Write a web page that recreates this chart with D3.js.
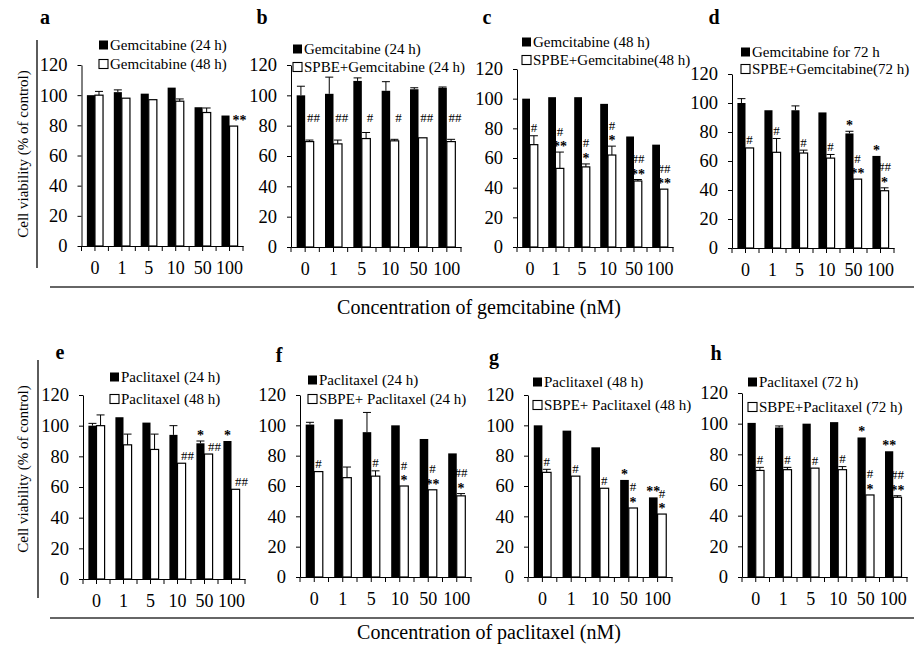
<!DOCTYPE html>
<html>
<head>
<meta charset="utf-8">
<script src="https://cdn.jsdelivr.net/npm/d3@7"></script>
<style>
body { margin: 0; background: #fff; }
text { font-family: "Liberation Serif", "Times New Roman", serif; fill: #000; }
</style>
</head>
<body>
<svg id="fig" width="917" height="647"></svg>
<script>

var concGem = ["0", "1", "5", "10", "50", "100"];
var concPac = ["0", "1", "5", "10", "50", "100"];
var concPacG = ["0", "1", "10", "50", "100"];
var yTicks = [0, 20, 40, 60, 80, 100, 120];

// a: gemcitabine 24 h vs 48 h
var aDark = [100, 102, 101, 105, 92, 86.5];
var aDarkErr = [0, 1.5, 0, 0, 0, 0];
var aLight = [100, 98, 97, 96, 88.5, 79.5];
var aLightErr = [2.5, 0, 0, 1.5, 3, 0];
var aDarkMarks = [[], [], [], [], [], []];
var aLightMarks = [[], [], [], [], [], ["**"]];

// b: gemcitabine 24 h, +SPBE
var bDark = [100, 101, 109.5, 103, 104, 105];
var bDarkErr = [6, 11, 2, 6, 1, 0.5];
var bLight = [69.5, 68, 71.5, 70, 72, 69.5];
var bLightErr = [1, 2.5, 4, 1, 0, 1.5];
var bDarkMarks = [[], [], [], [], [], []];
var bLightMarks = [["##"], ["##"], ["#"], ["#"], ["##"], ["##"]];

// c: gemcitabine 48 h, +SPBE
var cDark = [100, 101, 101, 96.5, 74.5, 69];
var cDarkErr = [0, 0, 0, 0, 0, 0];
var cLight = [69, 53, 54, 62, 44.5, 39];
var cLightErr = [6, 11, 2, 6, 1, 0];
var cDarkMarks = [[], [], [], [], [], []];
var cLightMarks = [["#"], ["#", "**"], ["#", "*"], ["#", "*"], ["##", "**"], ["##", "**"]];

// d: gemcitabine 72 h, +SPBE
var dDark = [100, 95, 95, 93.5, 79, 63.5];
var dDarkErr = [3, 0, 3, 0, 1.5, 0];
var dLight = [69, 66, 65.5, 62, 47.5, 39.5];
var dLightErr = [0, 9.5, 2, 2.5, 0, 2];
var dDarkMarks = [[], [], [], [], ["*"], ["*"]];
var dLightMarks = [["#"], ["#"], ["#"], ["#"], ["#", "**"], ["##", "*"]];

// e: paclitaxel 24 h vs 48 h
var eDark = [100, 105.5, 102, 94, 88.5, 90];
var eDarkErr = [1.5, 0, 0, 6, 1.5, 0];
var eLight = [100, 87.5, 84.5, 75.5, 81.5, 58.5];
var eLightErr = [7, 7, 10, 0, 0, 0];
var eDarkMarks = [[], [], [], [], ["*"], ["*"]];
var eLightMarks = [[], [], [], ["##"], ["##"], ["##"]];

// f: paclitaxel 24 h, +SBPE
var fDark = [100.5, 104, 95.5, 100, 91, 81.5];
var fDarkErr = [1.5, 0, 13, 0, 0, 0];
var fLight = [69.5, 65.5, 66.5, 60, 57.5, 53.5];
var fLightErr = [0, 7, 3.5, 0, 0, 1.5];
var fDarkMarks = [[], [], [], [], [], []];
var fLightMarks = [["#"], [], ["#"], ["#", "*"], ["#", "**"], ["##", "*"]];

// g: paclitaxel 48 h, +SBPE
var gDark = [100, 96.5, 85.5, 64, 52.5];
var gDarkErr = [0, 0, 0, 0, 0];
var gLight = [69, 66.5, 58.5, 45.5, 41.5];
var gLightErr = [2, 0, 0, 0, 0];
var gDarkMarks = [[], [], [], ["*"], ["**"]];
var gLightMarks = [["#"], ["#"], ["#"], ["#", "*"], ["#", "*"]];

// h: paclitaxel 72 h, +SBPE
var hDark = [100.5, 97.5, 100, 101, 91, 82];
var hDarkErr = [0, 1, 0, 0, 0, 0];
var hLight = [69.5, 70, 71, 70, 53.5, 52];
var hLightErr = [2, 1.5, 0, 2, 0, 1];
var hDarkMarks = [[], [], [], [], ["*"], ["**"]];
var hLightMarks = [["#"], ["#"], ["#"], ["#"], ["#", "*"], ["##", "**"]];

var panels = [
  {tag: "a", tagX: 45, tagY: 17, cats: concGem, dark: aDark, darkErr: aDarkErr, light: aLight, lightErr: aLightErr,
   darkMarks: aDarkMarks, lightMarks: aLightMarks, lightDx: 6,
   legend: ["Gemcitabine (24 h)", "Gemcitabine (48 h)"], lx: 99, ly: [45, 64],
   left: 81.5, right: 243, bottom: 246, top: 65},
  {tag: "b", tagX: 262, tagY: 17, cats: concGem, dark: bDark, darkErr: bDarkErr, light: bLight, lightErr: bLightErr,
   darkMarks: bDarkMarks, lightMarks: bLightMarks, lightDx: 4, floor: 80,
   legend: ["Gemcitabine (24 h)", "SPBE+Gemcitabine (24 h)"], lx: 293, ly: [49, 67],
   left: 291, right: 461, bottom: 247, top: 65},
  {tag: "c", tagX: 487, tagY: 17, cats: concGem, dark: cDark, darkErr: cDarkErr, light: cLight, lightErr: cLightErr,
   darkMarks: cDarkMarks, lightMarks: cLightMarks, lightDx: 0,
   legend: ["Gemcitabine (48 h)", "SPBE+Gemcitabine(48 h)"], lx: 522, ly: [42, 60],
   left: 517, right: 673, bottom: 247, top: 69},
  {tag: "d", tagX: 714, tagY: 17, cats: concGem, dark: dDark, darkErr: dDarkErr, light: dLight, lightErr: dLightErr,
   darkMarks: dDarkMarks, lightMarks: dLightMarks, lightDx: 0,
   legend: ["Gemcitabine for 72 h", "SPBE+Gemcitabine(72 h)"], lx: 741, ly: [52, 69],
   left: 732, right: 894, bottom: 248, top: 74},
  {tag: "e", tagX: 60, tagY: 352, cats: concPac, dark: eDark, darkErr: eDarkErr, light: eLight, lightErr: eLightErr,
   darkMarks: eDarkMarks, lightMarks: eLightMarks, lightDx: 6,
   legend: ["Paclitaxel (24 h)", "Paclitaxel (48 h)"], lx: 110, ly: [377, 399],
   left: 83, right: 245, bottom: 579, top: 395},
  {tag: "f", tagX: 279, tagY: 355, cats: concPac, dark: fDark, darkErr: fDarkErr, light: fLight, lightErr: fLightErr,
   darkMarks: fDarkMarks, lightMarks: fLightMarks, lightDx: 0,
   legend: ["Paclitaxel (24 h)", "SBPE+ Paclitaxel (24 h)"], lx: 308, ly: [380, 399],
   left: 300, right: 471, bottom: 577, top: 395},
  {tag: "g", tagX: 494, tagY: 357, cats: concPacG, dark: gDark, darkErr: gDarkErr, light: gLight, lightErr: gLightErr,
   darkMarks: gDarkMarks, lightMarks: gLightMarks, lightDx: 0,
   legend: ["Paclitaxel (48 h)", "SBPE+ Paclitaxel (48 h)"], lx: 533, ly: [382, 405],
   left: 528, right: 672, bottom: 577, top: 395},
  {tag: "h", tagX: 716, tagY: 353, cats: concPac, dark: hDark, darkErr: hDarkErr, light: hLight, lightErr: hLightErr,
   darkMarks: hDarkMarks, lightMarks: hLightMarks, lightDx: 0,
   legend: ["Paclitaxel (72 h)", "SBPE+Paclitaxel (72 h)"], lx: 748, ly: [382, 407],
   left: 742, right: 907, bottom: 577, top: 393}
];

var svg = d3.select("#fig");

function drawPanel(p) {
  var g = svg.append("g").attr("class", "panel-" + p.tag);

  var x = d3.scaleBand().domain(p.cats).range([p.left, p.right]);
  var bw = x.bandwidth();
  var sub = d3.scaleBand().domain(["dark", "light"]).range([bw * 0.2, bw * 0.8]);
  var y = d3.scaleLinear().domain([0, 120]).range([p.bottom, p.top]);

  var bars = [];
  p.cats.forEach(function(c, i) {
    bars.push({cat: c, s: "dark", v: p.dark[i], e: p.darkErr[i], m: p.darkMarks[i], dx: 0});
    bars.push({cat: c, s: "light", v: p.light[i], e: p.lightErr[i], m: p.lightMarks[i], dx: p.lightDx});
  });

  // bars
  g.selectAll("rect.bar").data(bars).enter().append("rect")
    .attr("class", "bar")
    .attr("x", function(d) { return x(d.cat) + sub(d.s); })
    .attr("width", sub.bandwidth())
    .attr("y", function(d) { return y(d.v); })
    .attr("height", function(d) { return y(0) - y(d.v); })
    .attr("fill", function(d) { return d.s == "dark" ? "#000" : "#fff"; })
    .attr("stroke", "#000")
    .attr("stroke-width", function(d) { return d.s == "dark" ? 0 : 1.2; });

  // error bars (upper only)
  var errs = bars.filter(function(d) { return d.e > 0; });
  function cx(d) { return x(d.cat) + sub(d.s) + sub.bandwidth() / 2; }
  g.selectAll("line.err").data(errs).enter().append("line")
    .attr("x1", cx).attr("x2", cx)
    .attr("y1", function(d) { return y(d.v); })
    .attr("y2", function(d) { return y(d.v + d.e); })
    .attr("stroke", "#000").attr("stroke-width", 1);
  g.selectAll("line.cap").data(errs).enter().append("line")
    .attr("x1", function(d) { return cx(d) - 4; })
    .attr("x2", function(d) { return cx(d) + 4; })
    .attr("y1", function(d) { return y(d.v + d.e); })
    .attr("y2", function(d) { return y(d.v + d.e); })
    .attr("stroke", "#000").attr("stroke-width", 1);

  // significance marks, stacked above the bar
  bars.forEach(function(d) {
    if (!d.m || d.m.length == 0) return;
    var base = y(d.v + d.e);
    if (p.floor && d.s == "light") base = Math.min(base, y(p.floor));
    var n = d.m.length;
    d.m.forEach(function(s, k) {
      var centre = base - 8 - (n - 1 - k) * 13;
      var star = s.indexOf("*") >= 0;
      g.append("text")
        .attr("x", cx(d) + d.dx)
        .attr("y", centre + (star ? 7 : 4.5))
        .attr("text-anchor", "middle")
        .style("font-size", star ? "14px" : "13px")
        .style("font-weight", star ? "bold" : "normal")
        .text(s);
    });
  });

  // y axis
  var yAx = g.append("g")
    .attr("transform", "translate(" + p.left + ",0)")
    .call(d3.axisLeft(y).tickValues(yTicks).tickSize(4).tickSizeOuter(0).tickPadding(10));
  yAx.selectAll("text").style("font-size", "18.5px");

  // x axis: labels with ticks at centres, extra ticks at category boundaries
  var xAx = g.append("g")
    .attr("transform", "translate(0," + p.bottom + ")")
    .call(d3.axisBottom(x).tickSize(5).tickSizeOuter(0).tickPadding(10));
  xAx.selectAll("text").style("font-size", "18px");
  var bounds = p.cats.map(function(c) { return x(c); }).concat([p.right]);
  xAx.selectAll("line.bound").data(bounds).enter().append("line")
    .attr("class", "bound")
    .attr("x1", function(d) { return d; }).attr("x2", function(d) { return d; })
    .attr("y1", 0).attr("y2", 5)
    .attr("stroke", "#000");
  g.selectAll(".domain").attr("stroke", "#000");

  // legend
  p.legend.forEach(function(t, i) {
    g.append("rect")
      .attr("x", p.lx).attr("y", p.ly[i] - 4.5)
      .attr("width", 9).attr("height", 9)
      .attr("fill", i == 0 ? "#000" : "#fff")
      .attr("stroke", "#000").attr("stroke-width", i == 0 ? 0 : 1.1);
    g.append("text")
      .attr("x", p.lx + 11).attr("y", p.ly[i])
      .attr("dy", "0.35em")
      .style("font-size", "15px")
      .text(t);
  });

  // panel letter
  g.append("text")
    .attr("x", p.tagX).attr("y", p.tagY)
    .attr("dy", "0.35em")
    .attr("text-anchor", "middle")
    .style("font-size", "20px").style("font-weight", "bold")
    .text(p.tag);
}

panels.forEach(drawPanel);

// frame lines and shared titles
var frame = [
  [37, 40, 37, 268], [50, 287, 914, 287],
  [38, 360, 38, 598], [50, 618, 914, 618]
];
svg.selectAll("line.frame").data(frame).enter().append("line")
  .attr("class", "frame")
  .attr("x1", function(d) { return d[0]; }).attr("y1", function(d) { return d[1]; })
  .attr("x2", function(d) { return d[2]; }).attr("y2", function(d) { return d[3]; })
  .attr("stroke", "#333").attr("stroke-width", 1.6);

svg.append("text")
  .attr("transform", "translate(23,154) rotate(-90)")
  .attr("text-anchor", "middle").attr("dy", "0.35em")
  .style("font-size", "15px")
  .text("Cell viability (% of control)");
svg.append("text")
  .attr("transform", "translate(23,469) rotate(-90)")
  .attr("text-anchor", "middle").attr("dy", "0.35em")
  .style("font-size", "15px")
  .text("Cell viability (% of control)");

svg.append("text")
  .attr("x", 479).attr("y", 307).attr("dy", "0.35em")
  .attr("text-anchor", "middle").style("font-size", "20px")
  .text("Concentration of gemcitabine (nM)");
svg.append("text")
  .attr("x", 489).attr("y", 632).attr("dy", "0.35em")
  .attr("text-anchor", "middle").style("font-size", "20px")
  .text("Concentration of paclitaxel (nM)");

svg.selectAll("text").style("font-family", "'Liberation Serif', 'Times New Roman', serif");

</script>
</body>
</html>
